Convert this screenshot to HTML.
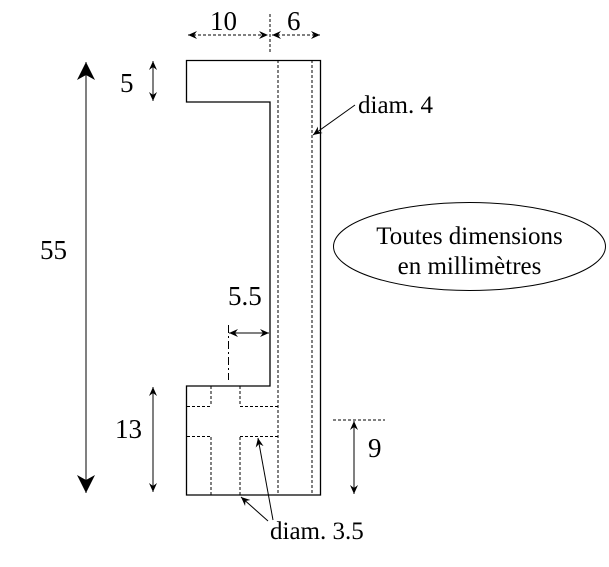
<!DOCTYPE html>
<html><head><meta charset="utf-8"><style>html,body{margin:0;padding:0;background:#fff}svg{display:block}text{font-family:"Liberation Serif",serif}</style></head>
<body>
<svg width="609" height="567" viewBox="0 0 609 567" xmlns="http://www.w3.org/2000/svg" style="font-family:'Liberation Serif',serif" fill="#000">
<defs>
<marker id="a" markerWidth="10" markerHeight="10" refX="9" refY="5" orient="auto-start-reverse" markerUnits="userSpaceOnUse"><path d="M0,1 L9,5 L0,9 L3,5 Z" fill="#000" stroke="none"/></marker>
<marker id="b" markerWidth="20" markerHeight="20" refX="18" refY="10" orient="auto-start-reverse" markerUnits="userSpaceOnUse"><path d="M0,1 L18,10 L0,19 L5,10 Z" fill="#000" stroke="none"/></marker>
</defs>
<g stroke="#000" stroke-width="1.3" fill="none">
<path d="M186.5,60.5 H320.5 V495 H186.5 V386 H270 V102 H186.5 Z"/>
</g>
<g stroke="#000" stroke-width="1" fill="none" stroke-dasharray="3,2">
<line x1="278" y1="60" x2="278" y2="495"/>
<line x1="312" y1="60" x2="312" y2="495"/>
<line x1="211" y1="386" x2="211" y2="406"/>
<line x1="211" y1="437" x2="211" y2="495"/>
<line x1="240" y1="386" x2="240" y2="406"/>
<line x1="240" y1="437" x2="240" y2="495"/>
<line x1="211" y1="386" x2="240" y2="386"/>
<line x1="187" y1="406.5" x2="211" y2="406.5"/>
<line x1="240" y1="406.5" x2="278" y2="406.5"/>
<line x1="187" y1="436.5" x2="211" y2="436.5"/>
<line x1="240" y1="436.5" x2="278" y2="436.5"/>
<line x1="270" y1="14" x2="270" y2="53"/>
<line x1="333" y1="420" x2="385" y2="420"/>
<line x1="188" y1="35" x2="268" y2="35" marker-start="url(#a)" marker-end="url(#a)"/>
<line x1="272" y1="35" x2="320" y2="35" marker-start="url(#a)" marker-end="url(#a)"/>
</g>
<line x1="228.5" y1="325" x2="228.5" y2="380" stroke="#000" stroke-dasharray="8,3,2,3"/>
<g stroke="#000" stroke-width="1" fill="none">
<line x1="86" y1="62" x2="86" y2="493" marker-start="url(#b)" marker-end="url(#b)"/>
<line x1="153" y1="61" x2="153" y2="101" marker-start="url(#a)" marker-end="url(#a)"/>
<line x1="153" y1="387" x2="153" y2="492" marker-start="url(#a)" marker-end="url(#a)"/>
<line x1="229" y1="333" x2="269" y2="333" marker-start="url(#a)" marker-end="url(#a)"/>
<line x1="354" y1="421" x2="354" y2="494" marker-start="url(#a)" marker-end="url(#a)"/>
<line x1="355" y1="105" x2="313" y2="135" marker-end="url(#a)"/>
<line x1="273" y1="520" x2="258" y2="438" marker-end="url(#a)"/>
<line x1="268" y1="521" x2="241" y2="497" marker-end="url(#a)"/>
<ellipse cx="469.5" cy="246.5" rx="136" ry="44"/>
</g>
<g font-size="27">
<text x="210" y="30">10</text>
<text x="287" y="30">6</text>
<text x="120" y="92">5</text>
<text x="40" y="259">55</text>
<text x="115" y="438">13</text>
<text x="228" y="305">5.5</text>
<text x="368" y="457">9</text>
</g>
<g font-size="25">
<text x="358" y="113">diam. 4</text>
<text x="270" y="539">diam. 3.5</text>
<text x="469.5" y="244" text-anchor="middle">Toutes dimensions</text>
<text x="469.5" y="274" text-anchor="middle">en millimètres</text>
</g>
</svg>
</body></html>
